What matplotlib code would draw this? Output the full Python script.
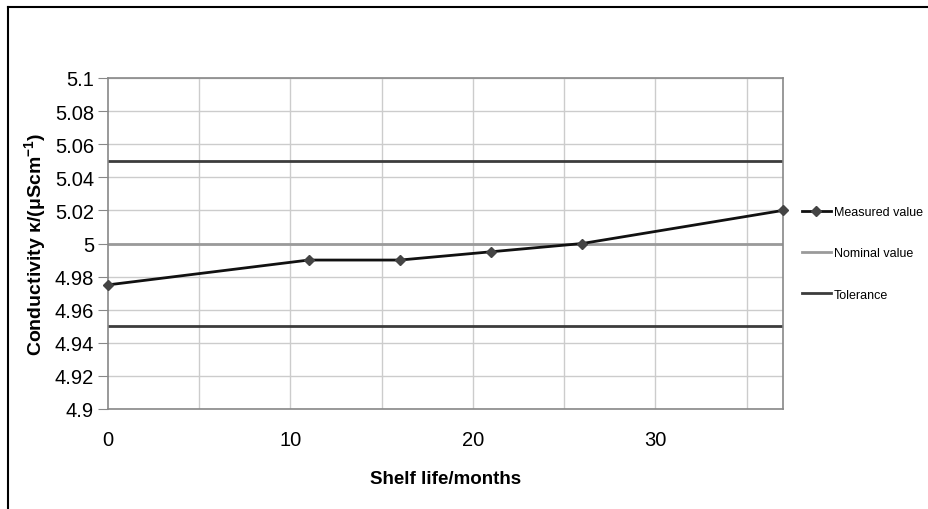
import matplotlib
matplotlib.use("Agg")
import matplotlib.pyplot as plt
from matplotlib.lines import Line2D

plt.rcParams['font.family'] = ['Liberation Sans', 'DejaVu Sans']
plt.rcParams['mathtext.fontset'] = 'custom'
plt.rcParams['mathtext.rm'] = 'Liberation Sans'
plt.rcParams['mathtext.bf'] = 'Liberation Sans:bold'

months = [0, 11, 16, 21, 26, 37]
measured = [4.975, 4.99, 4.99, 4.995, 5.0, 5.02]
nominal = 5.0
tolerance = [4.95, 5.05]
x_ticks = [0, 10, 20, 30]
y_ticks = [4.9, 4.92, 4.94, 4.96, 4.98, 5.0, 5.02, 5.04, 5.06, 5.08, 5.1]
y_labels = ['4.9', '4.92', '4.94', '4.96', '4.98', '5', '5.02', '5.04', '5.06', '5.08', '5.1']

fig = plt.figure(figsize=(9.29, 5.10), dpi=100)
ax = fig.add_axes([108/929, 1-410/510, (783-108)/929, (410-79)/510])

ax.set_xlim(0, 37)
ax.set_ylim(4.9, 5.1)

for xv in range(5, 37, 5):
    ax.axvline(xv, color='#cccccc', lw=1, zorder=1)
for yv in y_ticks:
    ax.axhline(yv, color='#cccccc', lw=1, zorder=1)

ax.plot([0, 37], [nominal, nominal], color='#9a9a9a', lw=2, zorder=2)
for t in tolerance:
    ax.plot([0, 37], [t, t], color='#3c3c3c', lw=2, zorder=2)
ax.plot(months, measured, color='#111111', lw=2, marker='D', ms=5,
        mfc='#444444', mec='#444444', zorder=3, clip_on=False)

ax.set_xticks(x_ticks)
ax.set_xticklabels([str(v) for v in x_ticks])
ax.set_yticks(y_ticks)
ax.set_yticklabels(y_labels)
ax.tick_params(axis='y', direction='out', length=7, color='#888888', labelsize=14.5, pad=3)
ax.tick_params(axis='x', length=0, labelsize=14.5, pad=15)
for s in ax.spines.values():
    s.set_color('#888888')
    s.set_linewidth(1.2)

ax.set_xlabel('Shelf life/months', fontsize=13.5, fontweight='bold', labelpad=15)
ax.set_ylabel('Conductivity κ/(μScm$^{\\mathbf{-1}}$)', fontsize=14, fontweight='bold', labelpad=4)

handles = [
    Line2D([], [], color='#111111', lw=2, marker='D', ms=5, mfc='#444444', mec='#444444'),
    Line2D([], [], color='#9a9a9a', lw=2),
    Line2D([], [], color='#3c3c3c', lw=2),
]
fig.legend(handles, ['Measured value', 'Nominal value', 'Tolerance'],
           loc='upper left', bbox_to_anchor=(802/929, 1-207/510), frameon=False,
           borderpad=0, borderaxespad=0,
           fontsize=9, handlelength=2.3, handletextpad=0.25, labelspacing=2.35)

# figure frame (top and left edges)
fig.add_artist(Line2D([8/929, 1], [1-8/510, 1-8/510], color='black', lw=1.5, transform=fig.transFigure))
fig.add_artist(Line2D([8/929, 8/929], [0, 1-8/510], color='black', lw=1.5, transform=fig.transFigure))

fig.savefig('out.png', dpi=100)
